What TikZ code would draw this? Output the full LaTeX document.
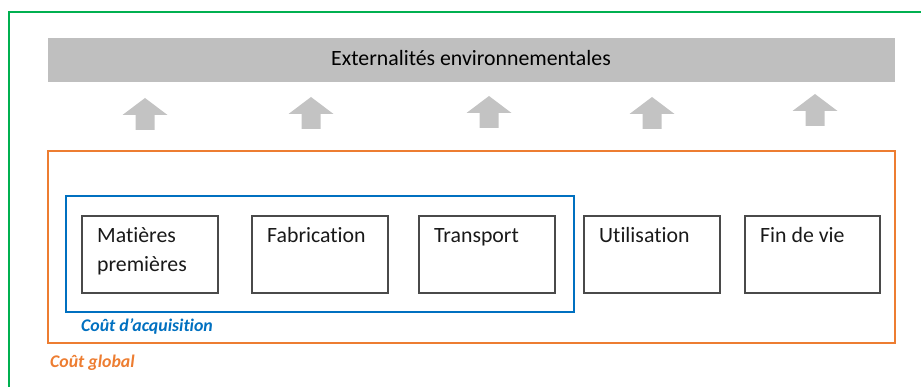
\documentclass[tikz,border=0pt]{standalone}
\usepackage{fontspec}
\setmainfont{Carlito}[Ligatures=NoCommon]
\definecolor{frameGreen}{HTML}{00B050}
\definecolor{costOrange}{HTML}{ED7D31}
\definecolor{costBlue}{HTML}{0070C0}
\definecolor{barGray}{HTML}{BFBFBF}
\definecolor{arrowGray}{HTML}{C3C3C3}
\definecolor{boxLine}{HTML}{4A4A4A}
\begin{document}
\begin{tikzpicture}[x=1pt,y=-1pt,
  stagebox/.style={draw=boxLine, line width=1.3pt},
  stagetext/.style={anchor=base west, inner sep=0pt, align=left,
    font=\fontsize{21.8}{29}\selectfont, text=black!90},
  costlabel/.style={anchor=base west, inner sep=0pt,
    font=\fontsize{17.8}{20}\selectfont\bfseries\itshape},
  uparrow/.style={fill=arrowGray, draw=none}]
\useasboundingbox (0,0) rectangle (921,387);
% green frame
\draw[frameGreen, line width=2pt] (9,387) -- (9,12) -- (921,12);
% top bar
\node[fill=barGray, minimum width=847pt, minimum height=44pt, inner sep=0pt,
  anchor=north west] (ext) at (48,38) {};
\node[anchor=base, inner sep=0pt, font=\fontsize{21.8}{26}\selectfont] (extlabel) at (471,66) {Externalités environnementales};
% up arrows
\foreach \cx/\ty in {145/98, 311/97, 489/96, 652/97, 815/94}{
  \fill[uparrow] (\cx,\ty) -- (\cx+22.5,\ty+17) -- (\cx+9.5,\ty+17) -- (\cx+9.5,\ty+32)
    -- (\cx-9.5,\ty+32) -- (\cx-9.5,\ty+17) -- (\cx-22.5,\ty+17) -- cycle;
}
% global cost frame
\draw[costOrange, line width=2pt] (48,151) rectangle (895,343);
\node[costlabel, text=costOrange] (global) at (50,367) {Coût global};
% acquisition cost frame
\draw[costBlue, line width=2pt] (66,196) rectangle (574,312);
\node[costlabel, text=costBlue] (acq) at (81,331) {Coût d’acquisition};
% stage boxes
\draw[stagebox] (82,216) rectangle (218,293);
\draw[stagebox] (252,216) rectangle (388,293);
\draw[stagebox] (419,216) rectangle (555,293);
\draw[stagebox] (584,216) rectangle (720,293);
\draw[stagebox] (745,216) rectangle (880,293);
\node[stagetext] (mp) at (97,272) {Matières\\premières};
\node[stagetext] (fab) at (267,243) {Fabrication};
\node[stagetext] (tr) at (434,243) {Transport};
\node[stagetext] (ut) at (599,243) {Utilisation};
\node[stagetext] (fv) at (760,243) {Fin de vie};
\end{tikzpicture}
\end{document}
